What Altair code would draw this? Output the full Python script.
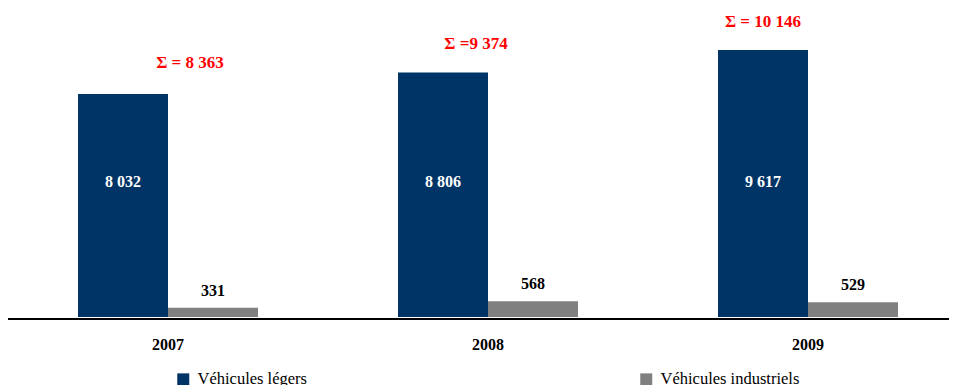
import altair as alt
import pandas as pd

years = ["2007", "2008", "2009"]
series = ["Véhicules légers", "Véhicules industriels"]
legers = [8032, 8806, 9617]
industriels = [331, 568, 529]
totals_text = ["Σ = 8 363", "Σ =9 374", "Σ = 10 146"]


def fmt(v):
    return f"{v:,}".replace(",", " ")


rows = []
for i, yr in enumerate(years):
    rows.append(dict(year=yr, series=series[0], value=legers[i], label=fmt(legers[i]), total=totals_text[i]))
    rows.append(dict(year=yr, series=series[1], value=industriels[i], label=fmt(industriels[i]), total=totals_text[i]))
df = pd.DataFrame(rows)

FONT = "Times New Roman, Liberation Serif, serif"
BLUE = "#003366"
GRAY = "#808080"
RED = "#FF0000"

x = alt.X(
    "year:N",
    scale=alt.Scale(domain=years, paddingInner=0.11875, paddingOuter=0),
    axis=alt.Axis(
        title=None, labelAngle=0, ticks=False, tickSize=0, domain=False,
        offset=2, labelFont=FONT, labelFontSize=16,
        labelFontWeight="bold", labelColor="black", labelPadding=30,
        labelBaseline="alphabetic", grid=False,
    ),
)
xo = alt.XOffset("series:N", scale=alt.Scale(domain=series, paddingInner=0, paddingOuter=0.5667))
y = alt.Y("value:Q", scale=alt.Scale(domain=[0, 11130]), axis=None)

base = alt.Chart(df)

bars = base.mark_bar().encode(
    x=x, xOffset=xo, y=y,
    color=alt.Color(
        "series:N",
        scale=alt.Scale(domain=series, range=[BLUE, GRAY]),
        legend=alt.Legend(
            title=None, orient="none", legendX=148, legendY=363,
            direction="horizontal", columns=2, symbolType="square",
            symbolSize=144, symbolStrokeWidth=0, labelFont=FONT,
            labelFontSize=16.5, labelColor="black", labelOffset=6,
            columnPadding=331, padding=0, labelLimit=300,
        ),
    ),
)

baseline = alt.Chart(df).mark_rule(color="black", strokeWidth=2).encode(
    x=alt.value(-19), x2=alt.value(960), y=alt.value(311)
)

blue_labels = base.transform_filter(alt.datum.series == series[0]).mark_text(
    font=FONT, fontSize=16, fontWeight="bold", color="white", baseline="alphabetic"
).encode(x=x, xOffset=xo, y=alt.value(179), text="label:N")

gray_labels = base.transform_filter(alt.datum.series == series[1]).mark_text(
    font=FONT, fontSize=16, fontWeight="bold", color="black", baseline="alphabetic", dy=-12
).encode(x=x, xOffset=xo, y=y, text="label:N")

sigma_nudges = [(22, -26), (-12, -24), (-45, -23)]
sigma_layers = []
for yr, (ddx, ddy) in zip(years, sigma_nudges):
    sigma_layers.append(
        base.transform_filter((alt.datum.series == series[0]) & (alt.datum.year == yr)).mark_text(
            font=FONT, fontSize=17, fontWeight="bold", color=RED, baseline="alphabetic", dx=ddx, dy=ddy
        ).encode(x=x, y=y, text="total:N")
    )

chart = alt.layer(bars, baseline, blue_labels, gray_labels, *sigma_layers).properties(
    width=922, height=309,
    autosize=alt.AutoSizeParams(type="none"),
    padding={"left": 19, "top": 0, "right": 0, "bottom": 80},
).configure_view(stroke=None)

chart.save("out.html", embed_options={"renderer": "svg", "actions": False})
